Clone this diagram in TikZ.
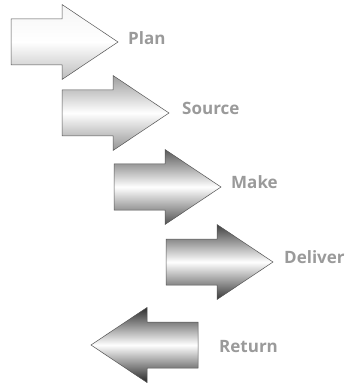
\documentclass[tikz,border=0pt]{standalone}
\usepackage{fontspec}
\setmainfont{Open Sans}
\usetikzlibrary{shadows.blur}

\definecolor{labelgray}{HTML}{9A9A9A}
\definecolor{edgegray}{HTML}{555555}

\tikzset{
  % block arrow: shaft 51 x 46, head 56 long and 75 high
  pics/rarrow/.style={code={
    \path[pic actions] (0,-23) -- (51,-23) -- (51,-37.5) -- (107,0)
      -- (51,37.5) -- (51,23) -- (0,23) -- cycle;
  }},
  pics/larrow/.style={code={
    \path[pic actions] (0,-23) -- (-51,-23) -- (-51,-37.5) -- (-107,0)
      -- (-51,37.5) -- (-51,23) -- (0,23) -- cycle;
  }},
  arrowbase/.style={draw=edgegray, line width=0.5pt, line join=miter,
    blur shadow={shadow xshift=2.5pt, shadow yshift=-2.5pt,
      shadow blur radius=3pt, shadow opacity=45}},
  % middle color has to come after top and bottom color
  shadeA/.style={arrowbase, top color=white!96!black, bottom color=white!74!black, middle color=white},
  shadeB/.style={arrowbase, top color=white!62!black, bottom color=white!58!black, middle color=white},
  shadeC/.style={arrowbase, top color=white!35!black, bottom color=white!32!black, middle color=white},
  shadeD/.style={arrowbase, top color=white!25!black, bottom color=white!22!black, middle color=white},
  shadeE/.style={arrowbase, top color=white!18!black, bottom color=white!15!black, middle color=white},
  steplabel/.style={anchor=west, inner sep=0pt, text=labelgray,
    font=\fontsize{17}{20}\selectfont\bfseries},
}

\begin{document}
\begin{tikzpicture}[x=1pt, y=-1pt]
  \useasboundingbox (0,0) rectangle (352,387);

  \pic[shadeA] (plan arrow) at (11,42) {rarrow};
  \pic[shadeB] (source arrow) at (62,113) {rarrow};
  \pic[shadeC] (make arrow) at (114,187) {rarrow};
  \pic[shadeD] (deliver arrow) at (166,262) {rarrow};
  \pic[shadeE] (return arrow) at (198,345) {larrow};

  \node[steplabel] (plan)    at (128,38)  {Plan};
  \node[steplabel] (source)  at (182,108) {Source};
  \node[steplabel] (make)    at (231,182) {Make};
  \node[steplabel] (deliver) at (284,257) {Deliver};
  \node[steplabel] (return)  at (219,347) {Return};
\end{tikzpicture}
\end{document}
